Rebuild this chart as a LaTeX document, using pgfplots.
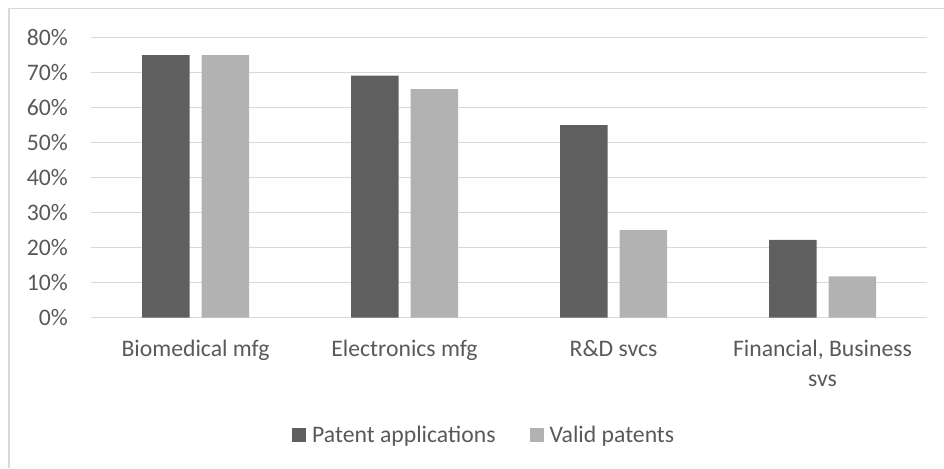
\documentclass[border=0pt]{standalone}
\usepackage{pgfplots}
\pgfplotsset{compat=1.18}
\usepackage{fontspec}
\setmainfont{Carlito}

\definecolor{darkbar}{HTML}{5F5F5F}
\definecolor{lightbar}{HTML}{B2B2B2}
\definecolor{gridgray}{HTML}{D9D9D9}
\definecolor{labelgray}{HTML}{595959}

\begin{document}
\begin{tikzpicture}[x=1pt,y=1pt]
\useasboundingbox (0,0) rectangle (944,468);
% chart frame (top and left edges)
\draw[gridgray, line width=1.3pt] (9,459.5) -- (944,459.5);
\draw[gridgray, line width=1.3pt] (9,459.5) -- (9,0);

\begin{axis}[
  at={(91pt,150.3pt)}, anchor=south west,
  scale only axis,
  width=836pt, height=280pt,
  ybar=12pt, bar width=47.5pt,
  xmin=-0.5, xmax=3.5,
  ymin=0, ymax=80,
  xtick={0,1,2,3},
  xticklabels={Biomedical mfg, Electronics mfg, R\&D svcs, {Financial, Business\\svs}},
  ytick={0,10,20,30,40,50,60,70,80},
  yticklabels={0\%,10\%,20\%,30\%,40\%,50\%,60\%,70\%,80\%},
  axis line style={draw=none},
  major tick length=0pt,
  ymajorgrids,
  major grid style={gridgray, line width=1.3pt},
  tick label style={font=\fontsize{23.7}{30}\selectfont, text=labelgray},
  yticklabel style={anchor=east, inner sep=0pt, xshift=-23pt},
  xticklabel style={anchor=north, inner sep=0pt, yshift=-22pt, align=center},
  legend columns=2,
  legend image code/.code={\fill[#1,draw=none] (0pt,-7pt) rectangle (14pt,7pt);},
  legend style={
    at={(0.2404,-0.4203)}, anchor=west,
    draw=none, fill=none, inner sep=0pt,
    font=\fontsize{23.7}{30}\selectfont, text=labelgray,
    nodes={inner sep=0pt},
    column sep=6pt,
    /tikz/every even column/.append style={column sep=34pt},
  },
]
\addplot[fill=darkbar, draw=none] coordinates {(0,75) (1,69.2) (2,55) (3,22.2)};
\addplot[fill=lightbar, draw=none] coordinates {(0,75) (1,65.3) (2,25) (3,11.8)};
\legend{Patent applications, Valid patents}
\end{axis}
\end{tikzpicture}
\end{document}
